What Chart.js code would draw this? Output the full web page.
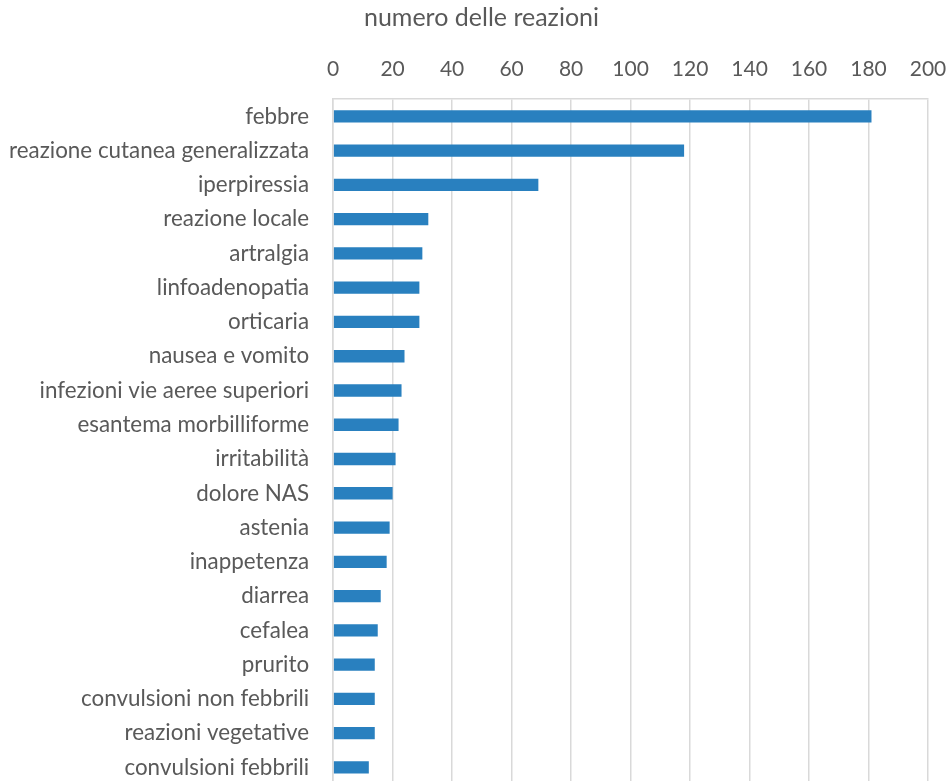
<!DOCTYPE html>
<html lang="it">
<head>
<meta charset="UTF-8">
<title>numero delle reazioni</title>
<script src="https://cdn.jsdelivr.net/npm/chart.js"></script>
<style>
  html, body { margin: 0; padding: 0; background: #fff; overflow: hidden; }
  #wrap { width: 951px; height: 781px; overflow: hidden; }
</style>
</head>
<body>
<div id="wrap"><canvas id="chart" width="951" height="822"></canvas></div>
<script>
// reazioni avverse, ordinate per frequenza
const categories = [
  "febbre",
  "reazione cutanea generalizzata",
  "iperpiressia",
  "reazione locale",
  "artralgia",
  "linfoadenopatia",
  "orticaria",
  "nausea e vomito",
  "infezioni vie aeree superiori",
  "esantema morbilliforme",
  "irritabilità",
  "dolore NAS",
  "astenia",
  "inappetenza",
  "diarrea",
  "cefalea",
  "prurito",
  "convulsioni non febbrili",
  "reazioni vegetative",
  "convulsioni febbrili"
];
const reazioni = [181, 118, 69, 32, 30, 29, 29, 24, 23, 22, 21, 20, 19, 18, 16, 15, 14, 14, 14, 12];
const xTicks = [0, 20, 40, 60, 80, 100, 120, 140, 160, 180, 200];

const FONT = "Lato, 'Open Sans', sans-serif";
const TEXT = "#595959";
const GRID = "#d9d9d9";

// centra il titolo sulla pagina e non sul riquadro del layout
const titleCenter = {
  id: "titleCenter",
  afterLayout(chart) {
    const t = chart.titleBlock;
    if (!t) return;
    const shift = chart.width / 2 + 6 - (t.left + t.right) / 2;
    t.left += shift;
    t.right += shift;
  }
};

function draw() {
  new Chart(document.getElementById("chart"), {
    type: "bar",
    data: {
      labels: categories,
      datasets: [{
        label: "numero delle reazioni",
        data: reazioni,
        backgroundColor: "#2980bf",
        borderWidth: 0,
        barPercentage: 0.36,
        categoryPercentage: 1
      }]
    },
    plugins: [titleCenter],
    options: {
      indexAxis: "y",
      responsive: false,
      animation: false,
      layout: { padding: { left: -15, right: 23, top: 3, bottom: 0 } },
      plugins: {
        legend: { display: false },
        tooltip: { enabled: false },
        title: {
          display: true,
          text: "numero delle reazioni",
          color: TEXT,
          font: { family: FONT, size: 25, weight: "normal" },
          padding: { top: 0, bottom: 7 }
        }
      },
      scales: {
        x: {
          position: "top",
          min: 0,
          max: 200,
          afterBuildTicks: (axis) => { axis.ticks = xTicks.map((v) => ({ value: v })); },
          // l'etichetta "200" può sporgere oltre il bordo destro del grafico
          afterFit: (axis) => { axis.paddingRight = 0; },
          grid: { color: GRID, lineWidth: 1.5, drawTicks: false },
          border: { color: GRID, width: 1.5 },
          ticks: { color: TEXT, padding: 17, font: { family: FONT, size: 21 } }
        },
        y: {
          grid: { display: false, drawTicks: false },
          border: { color: GRID, width: 1.5 },
          ticks: { color: TEXT, padding: 24, font: { family: FONT, size: 22.4 } }
        }
      }
    }
  });
}

// Lato deve essere caricato prima che Chart.js misuri le etichette
Promise.all([
  document.fonts.load("22px Lato"),
  document.fonts.load("22px 'Open Sans'")
]).then(draw, draw);
</script>
</body>
</html>
